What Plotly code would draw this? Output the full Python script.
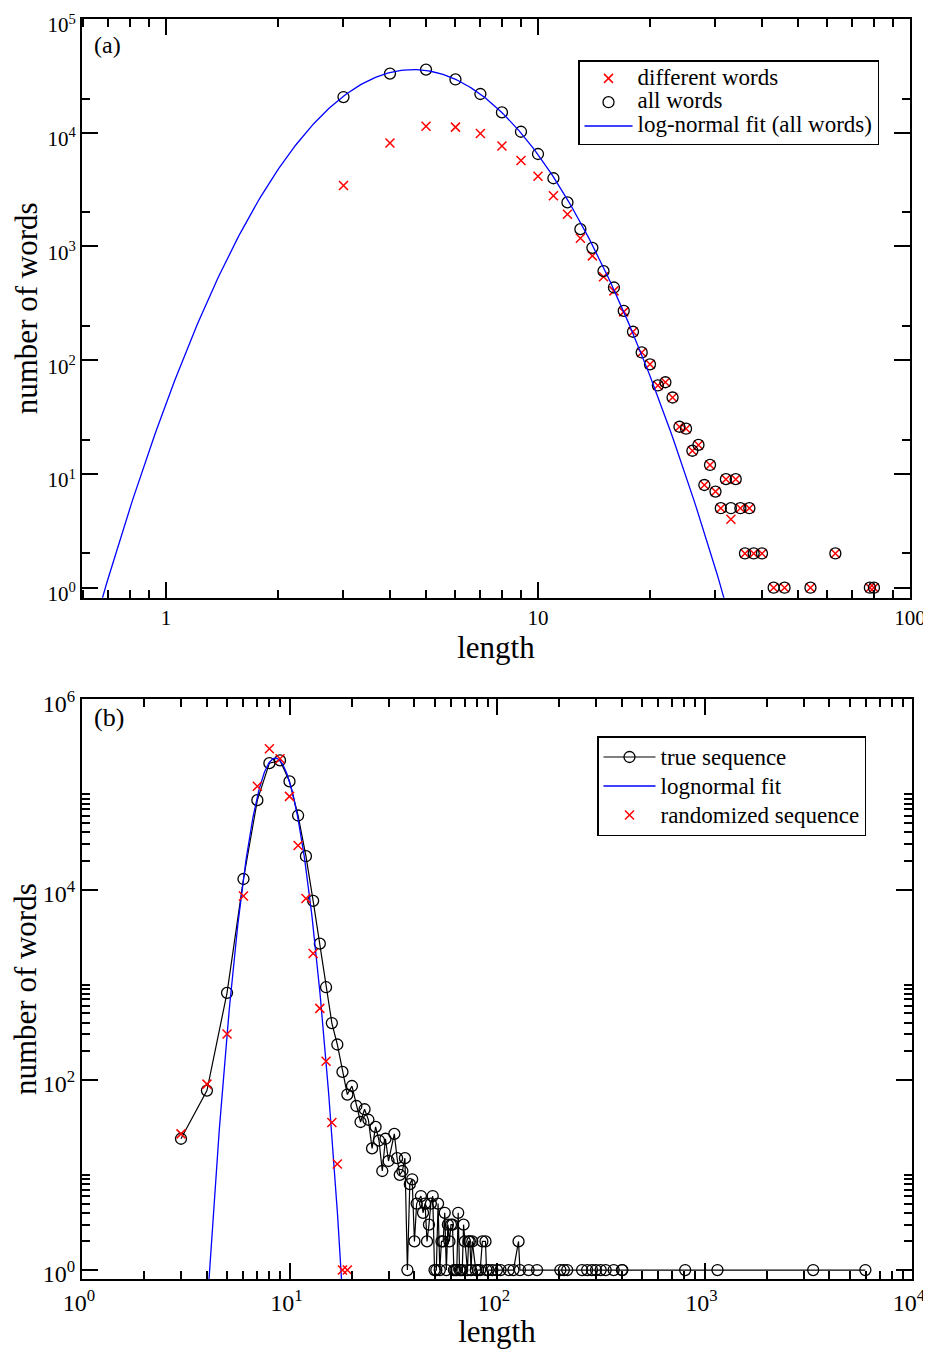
import numpy as np
import plotly.graph_objects as go

# ---------------- Panel (a) data ----------------
len_a = [3, 4, 5, 6, 7, 8, 9, 10, 11, 12, 13, 14, 15, 16, 17, 18, 19, 20, 21, 22,
         23, 24, 25, 26, 27, 28, 29, 30, 31, 32, 33, 34, 35, 36, 37, 38, 40, 43,
         46, 54, 63, 78, 80]
all_words = [20600, 33100, 35900, 29400, 21900, 15100, 10200, 6500, 3980, 2440,
             1420, 973, 607, 436, 272, 178, 117, 92, 60, 64,
             47, 26, 25, 16, 18, 8, 12, 7, 5, 9, 5, 9, 5, 2, 5, 2, 2, 1,
             1, 1, 2, 1, 1]
different_words = [3440, 8130, 11400, 11200, 9840, 7650, 5700, 4150, 2790, 1920,
                   1180, 827, 541, 407, 266, 178, 117, 92, 60, 64,
                   47, 26, 25, 16, 18, 8, 12, 7, 5, 9, 4, 9, 5, 2, 5, 2, 2, 1,
                   1, 1, 2, 1, 1]
# log-normal fit (all words): parabola in log-log space
fit_a_peak_len = 4.62
fit_a_peak_count = 35900
fit_a_curv = 6.65          # decades^-2
fit_a_len_range = (0.6, 40)

# ---------------- Panel (b) data ----------------
true_len = [3, 4, 5, 6, 7, 8, 9, 10, 11, 12, 13, 14, 15, 16, 17, 18, 19, 20, 21, 22,
            23, 24, 25, 26, 27, 28, 29, 30, 32, 33, 34, 35, 36, 37, 38, 39, 40, 41,
            43, 44, 45, 46, 47, 48, 49, 50, 51, 52, 53, 54, 55, 56, 57, 58, 59, 60,
            61, 62, 63, 64, 65, 66, 67, 68, 69, 70, 72, 73, 74, 75, 76, 79, 81, 83,
            85, 88, 89, 91, 95, 100, 104, 114, 120, 127, 129, 142, 156, 202, 210,
            218, 257, 272, 287, 300, 316, 334, 365, 400, 402, 807, 1155, 3340, 5960]
true_cnt = [24, 77, 820, 12900, 87000, 213000, 228000, 137000, 60000, 22400, 7600,
            2700, 940, 395, 235, 121, 70, 86, 53, 36,
            49, 38, 19, 32, 23, 11, 24, 14, 27, 15, 10, 11, 15, 1, 8, 9, 2, 5,
            6, 4, 5, 2, 3, 5, 6, 1, 1, 5, 1, 2, 2, 4, 1, 3, 2, 3,
            3, 1, 1, 1, 4, 1, 1, 1, 3, 2, 1, 2, 2, 1, 2, 1, 1, 1,
            2, 2, 1, 1, 1, 1, 1, 1, 1, 2, 1, 1, 1, 1, 1,
            1, 1, 1, 1, 1, 1, 1, 1, 1, 1, 1, 1, 1, 1]
rand_len = [3, 4, 5, 6, 7, 8, 9, 10, 11, 12, 13, 14, 15, 16, 17, 18, 19]
rand_cnt = [27, 90, 303, 8570, 121600, 302000, 237000, 95400, 29000, 8050, 2130,
            563, 157, 35.5, 13, 1, 1]
# lognormal fit: parabola in log-log space
fit_b_peak_len = 8.55
fit_b_peak_count = 241000
fit_b_curv = 53.5
fit_b_len_range = (3.5, 20)

# tick labels
a_xticks = [1, 10, 100]
a_xticktext = ["1", "10", "100"]
a_yticks = [1, 10, 100, 1000, 10000, 100000]
a_yticktext = ["10<sup>0</sup>", "10<sup>1</sup>", "10<sup>2</sup>",
               "10<sup>3</sup>", "10<sup>4</sup>", "10<sup>5</sup>"]
b_xticks = [1, 10, 100, 1000, 10000]
b_xticktext = ["10<sup>0</sup>", "10<sup>1</sup>", "10<sup>2</sup>",
               "10<sup>3</sup>", "10<sup>4</sup>"]
b_yticks = [1, 100, 10000, 1000000]
b_yticktext = ["10<sup>0</sup>", "10<sup>2</sup>", "10<sup>4</sup>", "10<sup>6</sup>"]


def lognormal_curve(peak_len, peak_count, curv, lrange, n=300):
    lx = np.linspace(np.log10(lrange[0]), np.log10(lrange[1]), n)
    ly = np.log10(peak_count) - curv * (lx - np.log10(peak_len)) ** 2
    return 10 ** lx, 10 ** ly


fa_x, fa_y = lognormal_curve(fit_a_peak_len, fit_a_peak_count, fit_a_curv, fit_a_len_range)
fb_x, fb_y = lognormal_curve(fit_b_peak_len, fit_b_peak_count, fit_b_curv, fit_b_len_range)

FONT = "Liberation Serif"
RED = "#ff0000"
BLUE = "#0000ff"


def lg(t):
    return '<span style="font-size:23px">' + t + '</span>'


fig = go.Figure()

xmark = dict(symbol="x-thin", size=9, color=RED, line=dict(width=1.5, color=RED))
omark = dict(symbol="circle-open", size=11, color="black", line=dict(width=1.3, color="black"))

fig.add_trace(go.Scatter(x=len_a, y=different_words, mode="markers", marker=xmark,
                         name=lg("different words"), xaxis="x", yaxis="y", legend="legend"))
fig.add_trace(go.Scatter(x=len_a, y=all_words, mode="markers", marker=omark,
                         name=lg("all words"), xaxis="x", yaxis="y", legend="legend"))
fig.add_trace(go.Scatter(x=fa_x, y=fa_y, mode="lines", line=dict(color=BLUE, width=1.3),
                         name=lg("log-normal fit (all words)"), xaxis="x", yaxis="y", legend="legend"))

fig.add_trace(go.Scatter(x=true_len, y=true_cnt, mode="lines+markers", marker=omark,
                         line=dict(color="black", width=1.2),
                         name=lg("true sequence"), xaxis="x2", yaxis="y2", legend="legend2"))
fig.add_trace(go.Scatter(x=fb_x, y=fb_y, mode="lines", line=dict(color=BLUE, width=1.3),
                         name=lg("lognormal fit"), xaxis="x2", yaxis="y2", legend="legend2"))
fig.add_trace(go.Scatter(x=rand_len, y=rand_cnt, mode="markers", marker=xmark,
                         name=lg("randomized sequence"), xaxis="x2", yaxis="y2", legend="legend2"))


def axis_common(tickvals, ticktext, minorvals, rng, domain, anchor, tfs, title, standoff,
                labelstandoff=0, labelshift=0):
    return dict(
        type="log", range=rng, domain=domain, anchor=anchor, automargin=False,
        tickmode="array", tickvals=tickvals, ticktext=ticktext,
        ticks="inside", ticklen=16, tickwidth=1.5, tickcolor="black",
        showline=True, linecolor="black", linewidth=2, mirror="allticks",
        showgrid=False, zeroline=False, ticklabelstandoff=labelstandoff,
        ticklabelshift=labelshift, ticklabeloverflow="allow",
        tickfont=dict(family=FONT, size=tfs, color="black"),
        minor=dict(tickmode="array", tickvals=minorvals, ticks="inside",
                   ticklen=8, tickwidth=1.5, tickcolor="black", showgrid=False),
        title=dict(text=title, font=dict(family=FONT, size=31, color="black"), standoff=standoff),
    )


a_xminor = [m * 10 ** k for k in (-1, 0, 1) for m in range(2, 10) if m * 10 ** k >= 0.6]
a_yminor = [2 * 10 ** k for k in range(0, 5)]
b_xminor = [m * 10 ** k for k in range(0, 4) for m in range(2, 10)]
b_yminor = [m * 10 ** k for k in (0, 2, 4) for m in range(2, 11)]

ya_dom = [0.5407, 1.0]
yb_dom = [0.0, 0.4601]

# page has an 8px body margin: figure origin sits at (8, 8) in the window
fig.update_layout(
    width=923, height=1341,
    margin=dict(l=74, r=19, t=11, b=70, autoexpand=False),
    paper_bgcolor="white", plot_bgcolor="white",
    font=dict(family=FONT, color="black"),
    xaxis=axis_common(a_xticks, a_xticktext, a_xminor, [-0.2258, 2.0], [0, 0.9976], "y", 21,
                      "length", 2),
    yaxis=axis_common(a_yticks, a_yticktext, a_yminor, [-0.088, 5.0], ya_dom, "x", 21,
                      "number of words", 1, 0, 6),
    xaxis2=axis_common(b_xticks, b_xticktext, b_xminor, [0, 4], [0, 1], "y2", 24,
                       "length", 6, 1, -3),
    yaxis2=axis_common(b_yticks, b_yticktext, b_yminor, [-0.094, 6], yb_dom, "x2", 24,
                       "number of words", 0, 0, 4),
    legend=dict(x=(578 - 82) / 830, y=(1279 - 60) / 1260, xanchor="left", yanchor="top",
                bgcolor="white", bordercolor="black", borderwidth=1.5, itemwidth=48,
                font=dict(family=FONT, size=16, color="black")),
    legend2=dict(x=(597 - 82) / 830, y=(1279 - 736) / 1260, xanchor="left", yanchor="top",
                 bgcolor="white", bordercolor="black", borderwidth=1.5, itemwidth=52,
                 font=dict(family=FONT, size=20, color="black")),
    annotations=[
        dict(text="(a)", xref="x domain", yref="y domain", x=0.012, y=0.9556,
             xanchor="left", yanchor="middle", showarrow=False,
             font=dict(family=FONT, size=24, color="black")),
        dict(text="(b)", xref="x2 domain", yref="y2 domain", x=0.012, y=0.9678,
             xanchor="left", yanchor="middle", showarrow=False,
             font=dict(family=FONT, size=26, color="black")),
    ],
)

fig.write_html("out.html")
